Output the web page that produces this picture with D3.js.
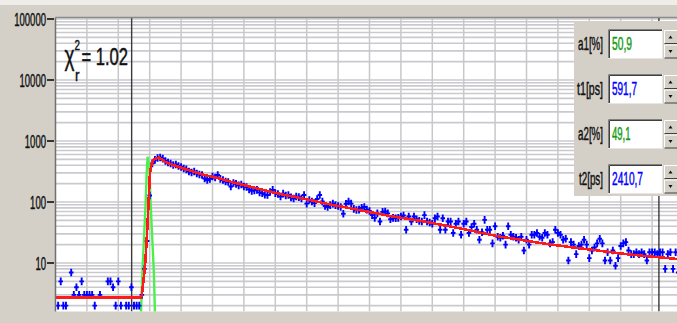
<!DOCTYPE html>
<html>
<head>
<meta charset="utf-8">
<script src="https://cdn.jsdelivr.net/npm/d3@7"></script>
<style>
  body { margin: 0; background: #d4d0c8; overflow: hidden; }
  text { font-family: "Liberation Sans", Arial, sans-serif; }
</style>
</head>
<body>
<div id="container"></div>
<script>
/* CONSTANTS AND GLOBALS */
const width = 677,
  height = 323,
  plot = { left: 55.5, top: 17.5, right: 700, bottom: 311.5 };

// photon counts per channel (channel 0 = left edge of plot)
const counts = [
  1, 2, 5, 2, 2, 1, 7, 3, 4, 3, 5, 3, 3, 3, 3, 2, 1, 3, 1, 1,
  5, 5, 4, 2, 5, 2, 1, 2, 2, 4, 2, 2, 2, 3, 8, 23, 128, 430, 490, 525,
  535, 515, 470, 445, 428, 404, 412, 389, 375, 355, 342, 316, 305, 316, 294, 283, 277, 243, 230, 239,
  262, 252, 277, 239, 230, 217, 213, 180, 205, 198, 187, 194, 180, 176, 161, 152, 155, 158, 144, 140,
  132, 130, 146, 158, 140, 135, 123, 137, 128, 130, 119, 114, 123, 120, 114, 130, 94, 108, 102, 96,
  112, 130, 102, 86, 83, 89, 94, 89, 86, 83, 64, 93, 102, 94, 77, 74, 75, 80, 83, 75,
  71, 61, 55, 65, 48, 69, 70, 65, 52, 55, 54, 55, 58, 60, 35, 58, 48, 58, 52, 49,
  48, 61, 48, 46, 44, 54, 58, 35, 54, 35, 48, 48, 31, 44, 48, 29, 44, 48, 31, 39,
  44, 35, 24, 32, 51, 35, 35, 21, 40, 27, 26, 28, 20, 40, 29, 27, 26, 24, 27, 16,
  24, 20, 29, 29, 31, 27, 26, 31, 29, 21, 22, 35, 31, 29, 24, 25, 11, 22, 20, 14,
  19, 20, 24, 20, 12, 16, 18, 21, 25, 21, 11, 15, 11, 16, 9, 12, 19, 21, 22, 16,
  14, 14, 15, 14, 15, 14, 11, 15, 15, 15, 14, 15, 15, 8, 14, 15, 8, 15, 7
];

// fitted decay (red)
const fitChannels = [0, 32.5, 33, 34.2, 34.85, 35.5, 36.1, 36.8, 37.8, 39.5, 42, 46, 50, 56, 62, 68, 74, 80, 86, 92,
  98, 104, 110, 116, 122, 128, 134, 140, 146, 152, 158, 164, 170, 176, 182, 188, 194, 200, 206, 212,
  218, 224, 230, 236, 242];
const fitValues = [2.7, 2.7, 3.0, 8.7, 23.8, 84, 299, 436, 507, 537, 452, 389, 342, 283, 248, 209, 180, 155, 135, 120,
  106, 92.7, 83, 74, 66, 58.8, 53.5, 48.7, 43.5, 38.8, 34.6, 30.4, 27, 24.7, 22.4, 20.4, 18.9, 17.5, 16.3, 15.1,
  14, 13.2, 12.5, 11.8, 11.2];

// instrument response (green)
const irfChannels = [32.3, 33.2, 33.8, 34.4, 34.85, 35.2, 35.8, 36.4, 37.0, 37.6, 38.3];
const irfValues = [0.5, 6.9, 24, 86, 299, 553, 404, 84, 24, 6.9, 0.5];

// cursor positions (channels)
const cursors = [29.1, 230.6];

const yTicks = [10, 100, 1000, 10000, 100000];
const paramNames = ["a1[%]", "t1[ps]", "a2[%]", "t2[ps]"];
const paramValues = ["50,9", "591,7", "49,1", "2410,7"];
const paramColors = ["#129c12", "#0000ff", "#129c12", "#0000ff"];
const chiValue = "1.02";

/* SCALES */
const xScale = d3.scaleLinear().domain([0, 240]).range([55.5, 683.5]);
const yScale = d3.scaleLog().domain([1, 100000]).range([324, 19]);

const svg = d3.select("#container").append("svg")
  .attr("width", width)
  .attr("height", height);

// window background
svg.append("rect").attr("width", width).attr("height", height).attr("fill", "#d4d0c8");
svg.append("rect").attr("width", width).attr("height", 5).attr("fill", "#efede9");

svg.append("clipPath").attr("id", "clip")
  .append("rect")
  .attr("x", plot.left).attr("y", plot.top)
  .attr("width", plot.right - plot.left).attr("height", plot.bottom - plot.top);

svg.append("rect")
  .attr("x", plot.left).attr("y", plot.top)
  .attr("width", plot.right - plot.left).attr("height", plot.bottom - plot.top)
  .attr("fill", "white");

const grid = svg.append("g").attr("clip-path", "url(#clip)");

// log grid, every 1..9 of each decade
const gridVals = [];
for (let d = 0; d <= 5; d++) for (let k = 1; k <= 9; k++) gridVals.push(k * Math.pow(10, d));
grid.selectAll("line.hgrid")
  .data(gridVals)
  .join("line")
  .attr("class", "hgrid")
  .attr("x1", plot.left).attr("x2", plot.right)
  .attr("y1", d => yScale(d)).attr("y2", d => yScale(d))
  .attr("stroke", "#c9c9cf")
  .attr("stroke-width", 1.6);

grid.selectAll("line.vgrid")
  .data(d3.range(12, 241, 12))
  .join("line")
  .attr("class", "vgrid")
  .attr("x1", d => xScale(d)).attr("x2", d => xScale(d))
  .attr("y1", plot.top).attr("y2", plot.bottom)
  .attr("stroke", "#c8c8c8")
  .attr("stroke-width", 1.5);

// cursors
grid.selectAll("line.cursor")
  .data(cursors)
  .join("line")
  .attr("class", "cursor")
  .attr("x1", d => xScale(d)).attr("x2", d => xScale(d))
  .attr("y1", plot.top).attr("y2", plot.bottom)
  .attr("stroke", "#3a3a3a")
  .attr("stroke-width", 1.4);

// IRF
const irf = d3.range(irfChannels.length).map(i => [irfChannels[i], irfValues[i]]);
grid.append("path")
  .datum(irf)
  .attr("d", d3.line().x(d => xScale(d[0])).y(d => yScale(d[1])))
  .attr("fill", "none")
  .attr("stroke", "#4cf04c")
  .attr("stroke-width", 2.4);

// data points
grid.selectAll("path.point")
  .data(counts)
  .join("path")
  .attr("class", "point")
  .attr("d", "M-2.3,0H2.3M0,-3.8V3.8")
  .attr("transform", (d, i) => `translate(${xScale(i)},${yScale(d)})`)
  .attr("stroke", "#0000ff")
  .attr("stroke-width", 1.9)
  .attr("fill", "none");

// fit
const fit = d3.range(fitChannels.length).map(i => [fitChannels[i], fitValues[i]]);
grid.append("path")
  .datum(fit)
  .attr("d", d3.line().x(d => xScale(d[0])).y(d => yScale(d[1])))
  .attr("fill", "none")
  .attr("stroke", "#ff1a1a")
  .attr("stroke-width", 2.6)
  .attr("shape-rendering", "crispEdges");

// frame
svg.append("line").attr("x1", plot.left).attr("x2", plot.left)
  .attr("y1", plot.top).attr("y2", plot.bottom)
  .attr("stroke", "#707070").attr("stroke-width", 1.5);
svg.append("line").attr("x1", plot.left).attr("x2", width)
  .attr("y1", plot.top).attr("y2", plot.top)
  .attr("stroke", "#8a8a8a").attr("stroke-width", 1.5);

// text squeezed horizontally to a given width, like the narrow font of the original
function squeezed(g, x, y, str, size, color, anchor, w) {
  const t = g.append("text")
    .attr("text-anchor", anchor)
    .attr("font-size", size)
    .attr("fill", color)
    .attr("stroke", color)
    .attr("stroke-width", 0.45)
    .text(str);
  const natural = t.node().getComputedTextLength();
  t.attr("transform", `translate(${x},${y}) scale(${w / natural},1)`);
  return t;
}

// y axis
const axis = svg.append("g");
yTicks.forEach(t => {
  axis.append("line")
    .attr("x1", 47).attr("x2", 54)
    .attr("y1", yScale(t)).attr("y2", yScale(t))
    .attr("stroke", "black").attr("stroke-width", 1.5);
  const s = d3.format("d")(t);
  squeezed(axis, 46, yScale(t) + 6.5, s, 17.5, "#111", "end", s.length * 5.3);
});

// chi-square
const chi = svg.append("g");
squeezed(chi, 64.5, 65, "\u03c7", 27, "#111", "start", 10);
squeezed(chi, 74.5, 50, "2", 15, "#111", "start", 5.5);
squeezed(chi, 75, 81, "r", 17, "#111", "start", 4.5);
squeezed(chi, 81.5, 65, "= " + chiValue, 24, "#111", "start", 46.5);

// parameter panel
const panel = svg.append("g");
panel.append("rect")
  .attr("x", 574).attr("y", 21)
  .attr("width", width - 574).attr("height", 175)
  .attr("fill", "#d4d0c8");

const boxTops = [29, 74, 119, 164];
const nameWidths = [25, 26, 25, 24];
const valueWidths = [20, 25, 18.5, 31];
paramNames.forEach((name, i) => {
  const top = boxTops[i];
  squeezed(panel, 603, top + 21, name, 17.5, "#111", "end", nameWidths[i]);
  // sunken edit box
  panel.append("rect").attr("x", 608).attr("y", top).attr("width", 55).attr("height", 30).attr("fill", "white");
  panel.append("path").attr("d", `M608.5,${top + 30}V${top + 0.5}H663`).attr("stroke", "#808080").attr("fill", "none");
  panel.append("path").attr("d", `M609.5,${top + 29}V${top + 1.5}H662`).attr("stroke", "#404040").attr("fill", "none");
  panel.append("path").attr("d", `M608,${top + 29.5}H662.5V${top}`).attr("stroke", "#e8e6e1").attr("fill", "none");
  squeezed(panel, 612, top + 21, paramValues[i], 17.5, paramColors[i], "start", valueWidths[i]);
  // spinner buttons
  [0, 1].forEach(j => {
    const by = top + 1 + j * 14.5;
    panel.append("rect").attr("x", 664).attr("y", by).attr("width", 15).attr("height", 13.5).attr("fill", "#d4d0c8");
    panel.append("path").attr("d", `M664.5,${by + 13.5}V${by + 0.5}H679`).attr("stroke", "#ffffff").attr("fill", "none");
    panel.append("path").attr("d", `M664.5,${by + 13.5}H679`).attr("stroke", "#404040").attr("fill", "none");
    const cy = by + 7;
    panel.append("path")
      .attr("d", j === 0 ? `M668.5,${cy + 1.5}L670.5,${cy - 1.5}L672.5,${cy + 1.5}Z` : `M668.5,${cy - 1.5}L670.5,${cy + 1.5}L672.5,${cy - 1.5}Z`)
      .attr("fill", "#111");
  });
});
</script>
</body>
</html>
